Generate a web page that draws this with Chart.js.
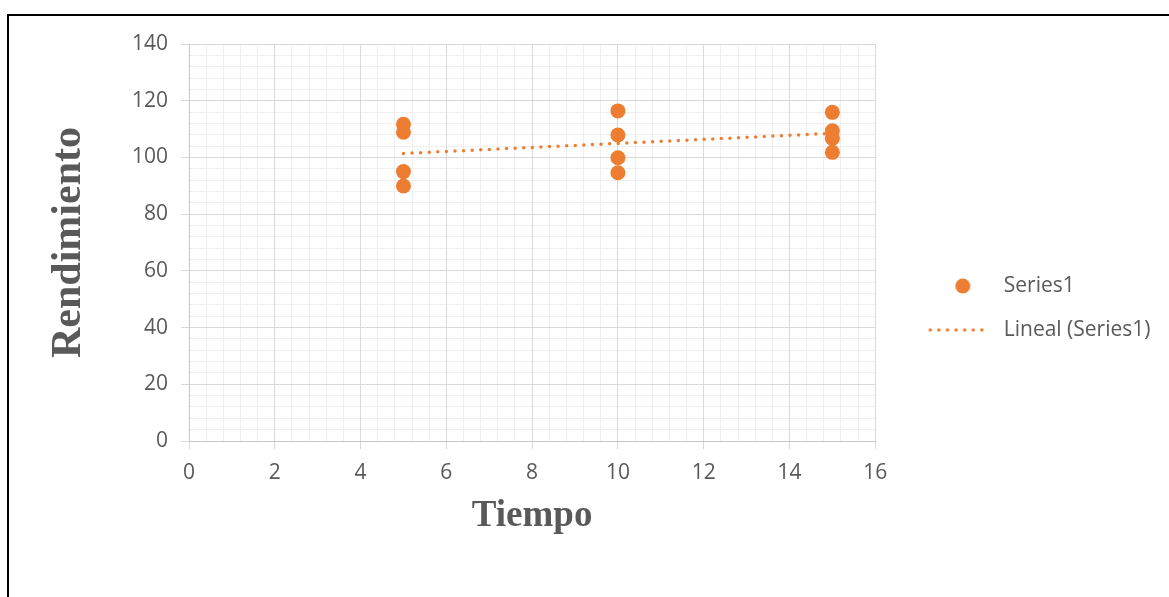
<!DOCTYPE html>
<html>
<head>
<meta charset="utf-8">
<script src="https://cdn.jsdelivr.net/npm/chart.js@4"></script>
<style>
  html, body { margin: 0; padding: 0; background: #fff; }
  #frame { position: absolute; left: 7px; top: 14px; width: 1300px; height: 700px; border-top: 2px solid #000; border-left: 2px solid #000; }
  #wrap { position: absolute; left: 0; top: 0; width: 1169px; height: 597px; }
</style>
</head>
<body>
<div id="frame"></div>
<div id="wrap"><canvas id="chart" width="1169" height="597"></canvas></div>
<script>
// values
const seriesLabels = ["Series1", "Lineal (Series1)"];
const timeValues = [5, 5, 5, 5, 10, 10, 10, 10, 15, 15, 15, 15];
const yieldValues = [111.7, 108.9, 95.0, 89.9, 116.4, 107.9, 99.9, 94.6, 115.9, 109.4, 106.7, 101.8];
const trendX = [5, 15];
const trendY = [101.4, 108.5];
const xRange = [0, 16];
const yRange = [0, 140];

const orange = "#ED7D31";
const textGray = "#595959";

// small pictures used as legend markers
function makeDot() {
    const c = document.createElement("canvas");
    c.width = 66; c.height = 16;
    const g = c.getContext("2d");
    g.fillStyle = orange;
    g.beginPath();
    g.arc(35.5, 8, 7.5, 0, Math.PI * 2);
    g.fill();
    return c;
}
function makeDots() {
    const c = document.createElement("canvas");
    c.width = 66; c.height = 6;
    const g = c.getContext("2d");
    g.strokeStyle = orange;
    g.lineWidth = 3.5;
    g.lineCap = "round";
    g.setLineDash([0, 8.6]);
    g.beginPath();
    g.moveTo(3, 3);
    g.lineTo(63, 3);
    g.stroke();
    return c;
}
const legendIcons = [makeDot(), makeDots()];

const points = timeValues.map((t, i) => ({ x: t, y: yieldValues[i] }));
const trend = trendX.map((t, i) => ({ x: t, y: trendY[i] }));

const ctx = document.getElementById("chart");

new Chart(ctx, {
    type: "scatter",
    data: {
        datasets: [{
            label: seriesLabels[0],
            data: points,
            backgroundColor: orange,
            borderWidth: 0,
            pointRadius: 7.5,
            pointHoverRadius: 7.5
        }, {
            label: seriesLabels[1],
            data: trend,
            showLine: true,
            borderColor: orange,
            borderWidth: 3.5,
            borderDash: [0, 8.6],
            borderCapStyle: "round",
            pointRadius: 0,
            pointHoverRadius: 0
        }]
    },
    options: {
        responsive: false,
        animation: false,
        layout: { padding: { left: 8, top: 44, right: 8.5, bottom: 25 } },
        plugins: {
            tooltip: { enabled: false },
            legend: {
                position: "right",
                maxWidth: 320,
                labels: {
                    usePointStyle: true,
                    pointStyleWidth: 66,
                    padding: 23,
                    color: textGray,
                    font: { family: "Open Sans", size: 21 },
                    generateLabels: chart => chart.data.datasets.map((ds, i) => ({
                        text: ds.label,
                        pointStyle: legendIcons[i],
                        fillStyle: orange,
                        strokeStyle: orange,
                        fontColor: textGray,
                        lineWidth: 0,
                        hidden: false,
                        datasetIndex: i
                    }))
                }
            }
        },
        scales: {
            xMinor: {
                type: "linear",
                position: "bottom",
                min: xRange[0],
                max: xRange[1],
                z: -1,
                ticks: { display: false, stepSize: 0.4 },
                grid: { color: "#efefef", drawTicks: false },
                border: { display: false }
            },
            yMinor: {
                type: "linear",
                position: "right",
                min: yRange[0],
                max: yRange[1],
                z: -1,
                ticks: { display: false, stepSize: 4 },
                grid: { color: "#efefef", drawTicks: false },
                border: { display: false },
                afterFit: s => { s.width = 29; }
            },
            x: {
                type: "linear",
                position: "bottom",
                min: xRange[0],
                max: xRange[1],
                ticks: {
                    stepSize: 2,
                    padding: 11,
                    color: textGray,
                    font: { family: "Open Sans", size: 21 }
                },
                grid: { color: "#d9d9d9", tickLength: 8 },
                border: { color: "#c6c6c6" },
                title: {
                    display: true,
                    text: "Tiempo",
                    color: textGray,
                    font: { family: "Liberation Serif", size: 37, weight: "bold" },
                    padding: { top: 0, bottom: 33 }
                },
                afterFit: s => { s.height = 131; }
            },
            y: {
                type: "linear",
                position: "left",
                min: yRange[0],
                max: yRange[1],
                ticks: {
                    stepSize: 20,
                    padding: 13,
                    color: textGray,
                    font: { family: "Open Sans", size: 21 }
                },
                grid: { color: "#d9d9d9", tickLength: 8 },
                border: { color: "#c6c6c6" },
                title: {
                    display: true,
                    text: "Rendimiento",
                    color: textGray,
                    font: { family: "Liberation Serif", size: 42, weight: "bold" },
                    padding: { top: 36, bottom: 0 }
                },
                afterFit: s => { s.width = 181; }
            }
        }
    }
});
</script>
</body>
</html>
